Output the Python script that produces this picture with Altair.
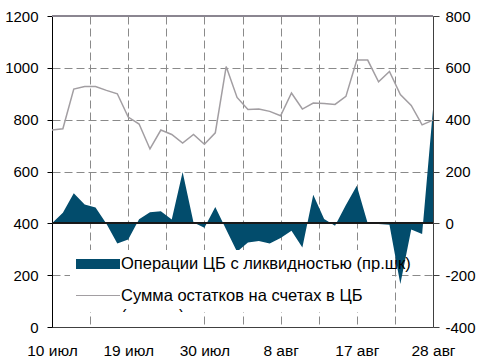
import altair as alt
import pandas as pd

# Business days, 10 Jul - 28 Aug
days = [
    "10 июл", "11 июл", "12 июл", "13 июл", "16 июл", "17 июл", "18 июл",
    "19 июл", "20 июл", "23 июл", "24 июл", "25 июл", "26 июл", "27 июл",
    "30 июл", "31 июл", "1 авг", "2 авг", "3 авг", "6 авг", "7 авг",
    "8 авг", "9 авг", "10 авг", "13 авг", "14 авг", "15 авг", "16 авг",
    "17 авг", "20 авг", "21 авг", "22 авг", "23 авг", "24 авг", "27 авг",
    "28 авг",
]

# Account balances at the central bank (left scale)
balances = [
    760, 765, 918, 928, 928, 913, 900, 810, 783, 687, 760, 743,
    710, 743, 705, 749, 1005, 886, 839, 841, 832, 815, 903, 841,
    864, 862, 859, 890, 1030, 1030, 946, 986, 897, 855, 780, 798,
]

# Central bank liquidity operations (right scale)
operations = [
    0, 41, 116, 73, 61, -2, -78, -62, 16, 43, 47, 15,
    198, 3, -17, 63, -24, -110, -74, -68, -78, -57, -29, -93,
    110, 17, -9, 71, 145, 0, -3, -5, -234, -24, -41, 440,
]

legend_labels = [
    "Операции ЦБ с ликвидностью (пр.шк)",
    "Сумма остатков на счетах в ЦБ",
    "(лев.шк)",
]

df = pd.DataFrame({
    "i": list(range(len(days))),
    "day": days,
    "balance": balances,
    "ops": operations,
})

FONT = "Liberation Sans"
TEAL = "#024c6c"
GRAY_LINE = "#a29ea2"
GRID = "#8a8a8a"
last = len(days) - 1
step = 7

label_list = "[" + ",".join("'%s'" % days[k] for k in range(0, last + 1, step)) + "]"
x_label_expr = (
    "datum.value %% %d === 0 ? %s[datum.value / %d] : ''" % (step, label_list, step)
)

x_enc = alt.X(
    "i:Q",
    scale=alt.Scale(domain=[0, last], nice=False, zero=False),
    axis=alt.Axis(
        values=[k * step / 2 for k in range(2 * last // step + 1)],
        labelExpr=x_label_expr,
        grid=True, gridDash=[8, 4], gridColor=GRID, gridWidth=1,
        ticks=False, domainColor="#404040", domainWidth=1,
        labelFlush=False, labelOverlap=False, labelBound=False,
        labelFont=FONT, labelFontSize=15.5, labelColor="#000000",
        labelPadding=16, title=None,
    ),
)

# Right scale: liquidity operations as a filled area around zero
area = alt.Chart(df).mark_area(color=TEAL, opacity=1).encode(
    x=x_enc,
    y=alt.Y(
        "ops:Q",
        scale=alt.Scale(domain=[-400, 800], nice=False),
        axis=alt.Axis(
            orient="right", values=list(range(-400, 801, 200)),
            labelExpr="'' + datum.value", grid=False,
            tickSize=6, tickColor="#404040", domainColor="#404040",
            labelPadding=6, labelFont=FONT, labelFontSize=15,
            labelColor="#000000", title=None,
        ),
    ),
    y2=alt.datum(0),
)
zero_rule = alt.Chart(df).mark_rule(color="#1a1a1a", strokeWidth=1.3).encode(
    y=alt.datum(0)
)
right_group = alt.layer(area, zero_rule)

# Left scale: balances as a thin gray line
line = alt.Chart(df).mark_line(color=GRAY_LINE, strokeWidth=1.5).encode(
    x=x_enc,
    y=alt.Y(
        "balance:Q",
        scale=alt.Scale(domain=[0, 1200], nice=False),
        axis=alt.Axis(
            orient="left", values=list(range(0, 1201, 200)),
            labelExpr="'' + datum.value",
            grid=True, gridDash=[8, 4], gridColor=GRID, gridWidth=1,
            tickSize=5, tickColor="#000000", domainColor="#000000",
            labelPadding=9, labelFont=FONT, labelFontSize=15,
            labelColor="#000000", title=None,
        ),
    ),
)
top_rule = alt.Chart(df).mark_rule(color="#8a8590", strokeWidth=1).encode(
    y=alt.datum(1200)
)
left_group = alt.layer(line, top_rule)

# Legend box drawn inside the plot
one = pd.DataFrame({"k": [0]})
legend_bg = alt.Chart(one).mark_rect(color="white").encode(
    x=alt.value(18), x2=alt.value(340), y=alt.value(234), y2=alt.value(296)
)
swatch_area = alt.Chart(one).mark_rect(color=TEAL).encode(
    x=alt.value(24), x2=alt.value(68), y=alt.value(243), y2=alt.value(253)
)
swatch_line = alt.Chart(one).mark_rule(color=GRAY_LINE, strokeWidth=1.2).encode(
    x=alt.value(24), x2=alt.value(68), y=alt.value(279.5)
)


def legend_text(row, y, baseline):
    rows = pd.DataFrame({"label": [legend_labels[row]]})
    return alt.Chart(rows).mark_text(
        align="left", baseline=baseline, font=FONT, fontSize=16.5, color="#000000"
    ).encode(x=alt.value(69), y=alt.value(y), text="label:N")


text1 = legend_text(0, 248, "middle")
text2 = legend_text(1, 280, "middle")
text3 = legend_text(2, 305, "alphabetic")

# the wrapped third legend line is cut off at the legend box's lower edge
cut = alt.Chart(one).mark_rect(color="white").encode(
    x=alt.value(66), x2=alt.value(140), y=alt.value(296), y2=alt.value(310)
)

chart = alt.layer(
    right_group, left_group, legend_bg, swatch_area, swatch_line,
    text1, text2, text3, cut
).resolve_scale(y="independent").properties(
    width=381,
    height=311,
    padding={"left": 52, "top": 16, "right": 46, "bottom": 33},
    autosize=alt.AutoSizeParams(type="none"),
    background="white",
).configure_view(stroke=None)

chart.save("out.html", embed_options={"renderer": "svg", "actions": False})
